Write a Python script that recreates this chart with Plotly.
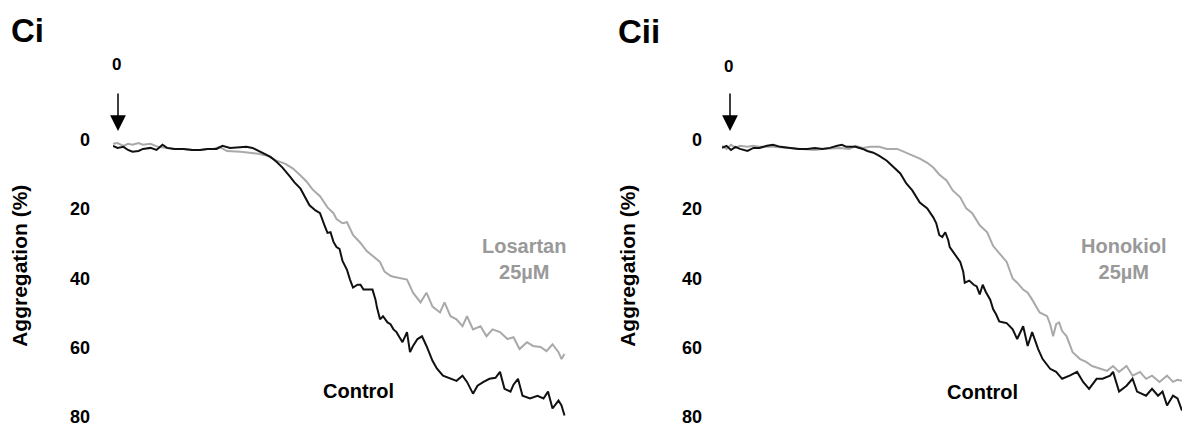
import plotly.graph_objects as go

# time after agonist (s), aggregation (%)
ci_control_t = [0, 3, 7, 10, 13, 17, 20, 25, 29, 33, 36, 41, 47, 53, 58, 63, 69, 73, 78, 85, 89, 93, 96,
                100, 105, 109, 113, 118, 121, 125, 128, 131, 135, 138, 141, 143, 145, 147, 149, 151, 153,
                156, 158, 160, 163, 165, 167, 169, 173, 175, 176, 178, 180, 183, 185, 187, 189, 191, 193,
                196, 198, 200, 203, 206, 209, 213, 216, 220, 225, 229, 233, 236, 240, 243, 247, 251, 255,
                258, 261, 265, 267, 270, 273, 278, 283, 287, 290, 293, 297, 299, 301]
ci_control = [1.7, 2.3, 2.0, 2.9, 3.4, 3.2, 2.6, 2.3, 2.9, 1.4, 2.3, 2.6, 2.6, 2.9, 2.9, 2.6, 2.6, 1.7, 2.3,
              2.0, 2.0, 2.3, 2.9, 3.7, 4.9, 6.3, 8.0, 10.6, 12.3, 14.1, 16.3, 18.9, 20.4, 21.2, 24.7, 26.9,
              26.7, 29.5, 31.0, 31.5, 35.0, 37.6, 40.4, 42.7, 41.9, 41.9, 43.3, 43.3, 43.3, 46.2, 48.5, 51.9,
              51.0, 52.8, 53.3, 54.8, 55.6, 57.1, 58.5, 55.6, 61.4, 59.6, 57.6, 56.8, 59.6, 63.9, 66.2, 68.2,
              69.1, 69.7, 68.2, 70.0, 73.4, 71.1, 70.0, 69.1, 68.8, 67.1, 72.0, 72.8, 70.8, 69.1, 74.0, 74.8,
              74.0, 74.8, 72.8, 77.7, 75.4, 76.8, 79.7]

ci_losartan_t = [0, 3, 7, 10, 13, 17, 20, 25, 30, 36, 41, 47, 53, 58, 63, 67, 71, 76, 81, 85, 91, 97, 103,
                 109, 115, 120, 125, 129, 133, 138, 143, 147, 149, 153, 156, 160, 165, 169, 173, 178, 181,
                 185, 187, 191, 196, 200, 205, 209, 213, 218, 221, 225, 229, 233, 236, 240, 245, 249, 253,
                 258, 263, 267, 271, 276, 280, 285, 289, 293, 297, 299, 301]
ci_losartan = [1.1, 0.9, 1.7, 1.1, 1.4, 0.9, 1.4, 1.1, 2.0, 2.3, 2.6, 2.6, 2.9, 2.9, 2.6, 2.6, 2.0, 3.2, 3.2,
               3.4, 3.7, 4.0, 4.6, 6.0, 6.9, 8.3, 10.3, 12.0, 14.3, 16.3, 19.5, 21.2, 22.9, 24.1, 23.8, 27.5,
               29.8, 32.1, 33.5, 35.3, 38.1, 39.3, 39.6, 39.9, 40.4, 44.2, 47.0, 44.2, 48.2, 49.9, 47.0, 51.0,
               51.9, 53.9, 51.0, 54.8, 53.9, 56.8, 54.8, 55.6, 57.6, 57.1, 60.5, 58.5, 59.6, 59.9, 61.1, 59.1,
               61.4, 63.4, 61.9]

cii_control_t = [0, 3, 6, 9, 12, 17, 21, 25, 30, 34, 39, 45, 51, 57, 62, 67, 72, 77, 80, 83, 89, 94, 97,
                 101, 105, 110, 115, 119, 123, 127, 132, 137, 141, 143, 145, 147, 149, 151, 152, 155, 159,
                 161, 162, 165, 168, 170, 172, 174, 176, 179, 181, 183, 185, 188, 190, 194, 197, 201, 204,
                 207, 211, 214, 219, 223, 227, 232, 237, 241, 245, 250, 254, 259, 261, 265, 270, 274, 277,
                 283, 287, 291, 294, 297, 301, 304, 307]
cii_control = [2.3, 1.7, 2.9, 2.0, 2.6, 3.2, 2.3, 2.3, 1.7, 1.4, 2.0, 2.3, 2.6, 2.6, 2.3, 2.6, 2.3, 1.7, 1.4,
               2.0, 2.0, 2.6, 3.2, 3.7, 4.6, 6.0, 8.0, 9.7, 12.6, 14.6, 18.1, 19.8, 22.4, 24.1, 27.5, 28.1,
               26.7, 29.0, 31.0, 32.7, 35.3, 38.1, 41.3, 40.7, 41.9, 42.4, 44.7, 41.9, 43.9, 46.2, 49.0, 50.5,
               52.5, 52.8, 53.0, 54.8, 57.6, 53.9, 59.6, 55.6, 60.5, 63.4, 66.2, 67.1, 69.1, 68.2, 67.1, 70.0,
               72.0, 69.1, 69.1, 68.2, 67.1, 72.8, 71.1, 69.1, 72.8, 74.0, 72.0, 74.0, 72.8, 76.8, 74.0, 74.8,
               78.3]

cii_honokiol_t = [0, 3, 6, 9, 12, 17, 21, 25, 34, 45, 57, 62, 67, 79, 85, 89, 94, 99, 105, 110, 117, 123,
                  127, 132, 137, 141, 145, 150, 154, 159, 163, 167, 172, 177, 181, 185, 190, 194, 197, 201,
                  204, 207, 212, 217, 219, 221, 223, 225, 227, 230, 234, 239, 243, 247, 252, 257, 261, 265,
                  270, 274, 279, 283, 287, 292, 297, 301, 304, 307]
cii_honokiol = [1.7, 2.6, 1.4, 2.3, 1.7, 2.0, 1.7, 2.0, 2.0, 2.3, 2.6, 2.9, 2.6, 2.3, 2.6, 1.7, 2.3, 2.0, 2.0,
                2.6, 2.6, 3.7, 4.6, 5.4, 6.6, 8.0, 10.0, 11.8, 14.6, 16.6, 19.8, 21.2, 24.7, 26.7, 30.7, 32.7,
                35.3, 40.1, 41.3, 43.3, 44.2, 46.2, 49.9, 51.0, 53.3, 56.8, 53.3, 52.8, 55.3, 56.8, 61.4, 63.4,
                64.2, 65.4, 66.2, 66.8, 65.4, 67.1, 65.4, 68.2, 67.1, 69.1, 68.2, 70.0, 68.2, 70.0, 69.4, 69.7]

y_ticks = [0, 20, 40, 60, 80]

BLACK = "#111111"
GREY = "#a9a9a9"
W, H = 1184, 430
# the photographed page comes out vertically squeezed: shot_y ~ 7.9 + 0.962 * page_y
SQ_OFF, SQ = 7.9, 0.962


def px(x, y):
    # wanted position in the final picture -> paper fraction
    return x / W, 1 - ((y - SQ_OFF) / SQ) / H


fig = go.Figure()
fig.add_trace(go.Scatter(x=ci_losartan_t, y=ci_losartan, mode="lines",
                         line=dict(color=GREY, width=2), xaxis="x", yaxis="y"))
fig.add_trace(go.Scatter(x=ci_control_t, y=ci_control, mode="lines",
                         line=dict(color=BLACK, width=2), xaxis="x", yaxis="y"))
fig.add_trace(go.Scatter(x=cii_honokiol_t, y=cii_honokiol, mode="lines",
                         line=dict(color=GREY, width=2), xaxis="x2", yaxis="y2"))
fig.add_trace(go.Scatter(x=cii_control_t, y=cii_control, mode="lines",
                         line=dict(color=BLACK, width=2), xaxis="x2", yaxis="y2"))

tick_font = dict(family="Liberation Sans Narrow, Arial Narrow, Liberation Sans, Arial",
                 size=18, color="black", weight="bold")
y_dom = [px(0, 418)[1], px(0, 139)[1]]

yaxis_common = dict(range=[80, 0], domain=y_dom, tickvals=y_ticks, showgrid=False,
                    zeroline=False, showline=False, ticks="", tickfont=tick_font,
                    ticklabeloverflow="allow")

fig.update_layout(
    width=W, height=H,
    margin=dict(l=0, r=0, t=0, b=0),
    plot_bgcolor="white", paper_bgcolor="white",
    showlegend=False,
    font=dict(family="Liberation Sans, Arial, sans-serif", color="black"),
    xaxis=dict(domain=[113 / W, 566 / W], range=[0, 302], visible=False),
    xaxis2=dict(domain=[722 / W, 1182 / W], range=[0, 307], visible=False),
    yaxis=dict(anchor="x", ticklabelstandoff=22, **yaxis_common),
    yaxis2=dict(anchor="x2", ticklabelstandoff=19, **yaxis_common),
)

bold = dict(family="Liberation Sans, Arial, sans-serif", weight="bold")


def note(x, y, text, size, color="black", angle=0):
    ax, ay = px(x, y)
    fig.add_annotation(x=ax, y=ay, xref="paper", yref="paper", text=text, showarrow=False,
                       xanchor="center", yanchor="middle", textangle=angle,
                       font=dict(size=size, color=color, **bold))


# panel letters
note(27, 29, "Ci", 33)
note(639, 30, "Cii", 33)

# y titles
note(20, 266, "Aggregation (%)", 21, angle=-90)
note(628, 266, "Aggregation (%)", 21, angle=-90)

# agonist addition marks
for x0, lab_y in [(118, 63), (730, 65)]:
    note(x0 - 2, lab_y, "0", 17)
    tx, ty = px(x0, 130)
    fig.add_annotation(x=tx, y=ty, xref="paper", yref="paper", ax=0, ay=-39, text="",
                       showarrow=True, arrowhead=2, arrowsize=2.1, arrowwidth=1.5,
                       arrowcolor="black")

# trace labels
note(524, 259, "Losartan<br>25µM", 20, color="#999999")
note(1124, 259, "Honokiol<br>25µM", 20, color="#999999")
note(358, 392, "Control", 20)
note(982, 393, "Control", 20)

# drop the default body margin so the figure sits at the window's corner
fig.write_html("out.html", config={"displayModeBar": False},
               post_script="document.body.style.margin='0';document.body.style.overflow='hidden';")
